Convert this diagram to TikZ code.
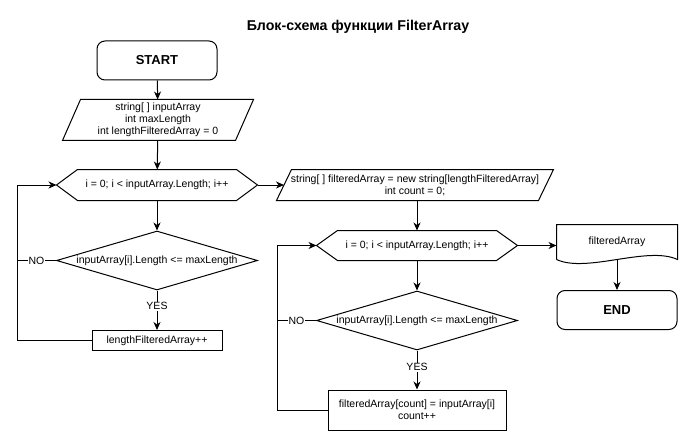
\documentclass[tikz,border=0pt]{standalone}
\usepackage{fontspec}
\setmainfont{Liberation Sans}
\usetikzlibrary{arrows.meta,shapes.geometric,calc}
\begin{document}
\begin{tikzpicture}[x=1pt,y=-1pt, line width=1pt,
  arr/.style={-{Stealth[length=8pt,width=7pt,inset=2.5pt]}},
  txt/.style={font=\fontsize{10.5}{12}\selectfont, align=center},
  term/.style={draw, rounded corners=8pt, minimum width=120pt, minimum height=39pt, inner sep=0pt, font=\bfseries\fontsize{13}{15}\selectfont},
  box/.style={draw, txt, inner sep=0pt},
  dia/.style={draw, diamond, aspect=3.4, inner sep=0pt, txt},
  lbl/.style={fill=white, inner sep=1pt, txt},
  shapebox/.style={txt, inner sep=0pt}
]
\useasboundingbox (0,0) rectangle (688,441);
\fill[white] (0,0) rectangle (688,441);

\node[font=\bfseries\fontsize{14.2}{16}\selectfont] (title) at (358,27) {Блок-схема функции FilterArray};

% left column
\node[term] (start) at (157,60.5) {START};
\node[shapebox, minimum width=190pt, minimum height=40pt] (p1) at (158,120) {string[ ] inputArray\\int maxLength\\int lengthFilteredArray = 0};
\draw ([xshift=18pt]p1.north west) -- (p1.north east) -- ([xshift=-18pt]p1.south east) -- (p1.south west) -- cycle;
\node[shapebox, minimum width=200pt, minimum height=30pt] (h1) at (157,185) {i = 0; i < inputArray.Length; i++};
\draw ([xshift=21pt]h1.north west) -- ([xshift=-21pt]h1.north east) -- (h1.east) -- ([xshift=-21pt]h1.south east) -- ([xshift=21pt]h1.south west) -- (h1.west) -- cycle;
\node[dia, minimum width=201pt, minimum height=59pt] (d1) at (157,260.5) {inputArray[i].Length <= maxLength};
\node[box, minimum width=130pt, minimum height=20pt] (r1) at (157,340.5) {lengthFilteredArray++};

% middle column
\node[shapebox, minimum width=276pt, minimum height=30pt] (p2) at (415,185) {string[ ] filteredArray = new string[lengthFilteredArray]\\int count = 0;};
\draw ([xshift=15pt]p2.north west) -- (p2.north east) -- ([xshift=-15pt]p2.south east) -- (p2.south west) -- cycle;
\node[shapebox, minimum width=200pt, minimum height=29pt] (h2) at (417,245.5) {i = 0; i < inputArray.Length; i++};
\draw ([xshift=21pt]h2.north west) -- ([xshift=-21pt]h2.north east) -- (h2.east) -- ([xshift=-21pt]h2.south east) -- ([xshift=21pt]h2.south west) -- (h2.west) -- cycle;
\node[dia, minimum width=201pt, minimum height=59pt] (d2) at (417,320.5) {inputArray[i].Length <= maxLength};
\node[box, minimum width=178pt, minimum height=40pt] (r2) at (417,410) {filteredArray[count] = inputArray[i]\\count++};

% right column
\node[shapebox, minimum width=120pt, minimum height=34pt] (doc) at (617,242) {filteredArray};
\draw (doc.south west) -- (doc.north west) -- (doc.north east) -- (doc.south east)
  .. controls ($(doc.south east)+(-30,-14)$) and ($(doc.south west)+(30,14)$) .. (doc.south west);
\node[term] (end) at (617,310) {END};

% connectors
\draw[arr] (start) -- (p1);
\draw[arr] (p1) -- (h1);
\draw[arr] (h1) -- (d1);
\draw[arr] (d1) -- node[lbl, pos=0.4]{YES} (r1);
\coordinate (L1) at (17,340.5);
\draw[arr] (r1.west) -- (L1) |- (h1.west);
\draw (d1.west) -- node[lbl]{NO} (d1.west -| L1);
\draw[arr] (h1.east) -- ([xshift=7.5pt]p2.west);

\draw[arr] (p2.south -| h2.north) -- (h2.north);
\draw[arr] (h2) -- (d2);
\draw[arr] (d2) -- node[lbl, pos=0.43]{YES} (r2);
\coordinate (L2) at (277,410);
\draw[arr] (r2.west) -- (L2) |- (h2.west);
\draw (d2.west) -- node[lbl]{NO} (d2.west -| L2);
\draw[arr] (h2.east) -- (h2.east -| doc.west);
\draw[arr] (doc.south) -- (end);
\end{tikzpicture}
\end{document}
